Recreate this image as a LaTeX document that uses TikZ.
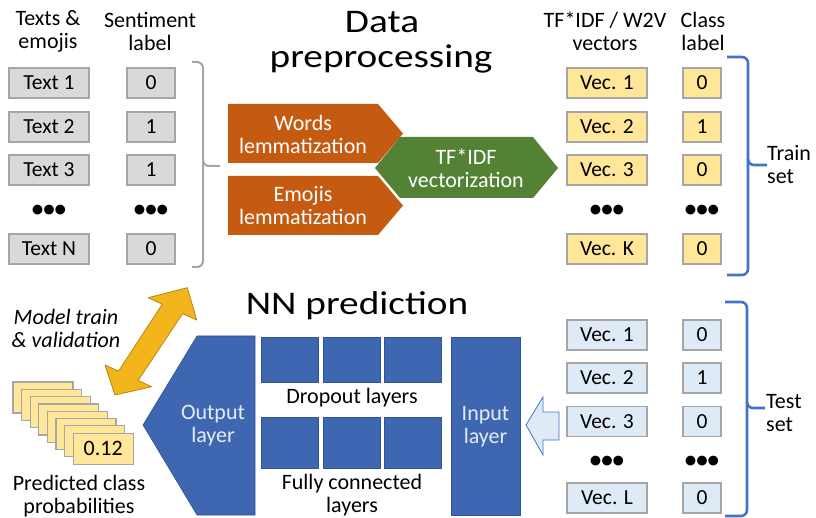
\documentclass[tikz,border=0pt]{standalone}
\usepackage{fontspec}
\setmainfont{Carlito}
\newfontfamily\titlefont[FakeStretch=1.19]{Carlito}
\definecolor{gfill}{HTML}{D9D9D9}
\definecolor{gline}{HTML}{A6A6A6}
\definecolor{yfill}{HTML}{FFE699}
\definecolor{bfill}{HTML}{DEEBF7}
\definecolor{orng}{HTML}{C55A11}
\definecolor{grn}{HTML}{548235}
\definecolor{nnblue}{HTML}{3F67B1}
\definecolor{nnedge}{HTML}{2E5597}
\definecolor{brblue}{HTML}{4472C4}
\definecolor{gold}{HTML}{F2B51C}
\definecolor{goldedge}{HTML}{B8860B}
\definecolor{nntext}{HTML}{E4ECF8}
\begin{document}
\begin{tikzpicture}[x=1pt,y=-1pt,
  cell/.style={draw=gline, line width=1.2pt, minimum height=30pt, inner sep=0pt,
    font=\fontsize{21.5}{24}\selectfont},
  graycell/.style={cell, fill=gfill},
  yelcell/.style={cell, fill=yfill},
  bluecell/.style={cell, fill=bfill},
  wide/.style={minimum width=80pt},
  narrow/.style={minimum width=48pt},
  cnarrow/.style={minimum width=38pt},
  dots/.style={font=\fontsize{23}{24}\selectfont\bfseries, inner sep=0pt},
  hdr/.style={font=\fontsize{22}{23}\selectfont, align=center, inner sep=0pt},
  ttl/.style={font=\titlefont\fontsize{33}{35}\selectfont, inner sep=0pt, anchor=base},
  wtxt/.style={hdr, text=white},
  nnt/.style={hdr, text=nntext},
  nnsq/.style={fill=nnblue, draw=nnedge, line width=0.6pt, minimum width=57pt, inner sep=0pt},
  card/.style={fill=yfill, draw=gline, line width=1.2pt, minimum width=60pt, minimum height=31pt,
    inner sep=0pt, font=\fontsize{22}{24}\selectfont},
  brg/.style={draw=gline, line width=2pt, rounded corners=6pt},
  brb/.style={draw=brblue, line width=2.6pt, rounded corners=6pt}
]
\useasboundingbox (0,0) rectangle (816,518);

% ---------- headers ----------
\node[hdr] (h1) at (48,31.5) {Texts \&\\emojis};
\node[hdr] (h2) at (150,31.5) {Sentiment\\label};
\node[hdr] (h3) at (605,31.5) {TF*IDF / W2V\\vectors};
\node[hdr] (h4) at (703,31.5) {Class\\label};
\node[ttl] (dp1) at (382,33) {Data};
\node[ttl] (dp2) at (381,68) {preprocessing};
\node[ttl] (nnp) at (357,315) {NN prediction};

% ---------- left texts ----------
\node[graycell, wide] (t1) at (49,83) {Text 1};
\node[graycell, wide] (t2) at (49,127) {Text 2};
\node[graycell, wide] (t3) at (49,170) {Text 3};
\node[dots] (td) at (49,211) {•••};
\node[graycell, wide] (tn) at (49,249) {Text N};
\node[graycell, narrow] (s1) at (151,83) {0};
\node[graycell, narrow] (s2) at (151,127) {1};
\node[graycell, narrow] (s3) at (151,170) {1};
\node[dots] (sd) at (151,211) {•••};
\node[graycell, narrow] (sn) at (151,249) {0};
\draw[brg] (192,62) -| (203,166) -- (220,166);
\draw[brg] (203,160) |- (192,267);

% ---------- preprocessing arrows ----------
\fill[orng] (228,104) -- (378,104) -- (403,133.5) -- (378,163) -- (228,163) -- cycle;
\fill[orng] (228,176) -- (378,176) -- (403,205.5) -- (378,235) -- (228,235) -- cycle;
\fill[grn] (375,168) -- (400,137) -- (533,137) -- (558,168) -- (533,198) -- (400,198) -- cycle;
\node[wtxt] (wl) at (303,134) {Words\\lemmatization};
\node[wtxt] (el) at (303,206) {Emojis\\lemmatization};
\node[wtxt] (tf) at (466,168) {TF*IDF\\vectorization};

% ---------- train set ----------
\node[yelcell, wide] (v1) at (607,83) {Vec. 1};
\node[yelcell, wide] (v2) at (607,127) {Vec. 2};
\node[yelcell, wide] (v3) at (607,170) {Vec. 3};
\node[dots] (vd) at (607,211) {•••};
\node[yelcell, wide] (vk) at (607,249) {Vec. K};
\node[yelcell, cnarrow] (c1) at (702,83) {0};
\node[yelcell, cnarrow] (c2) at (702,127) {1};
\node[yelcell, cnarrow] (c3) at (702,170) {0};
\node[dots] (cd) at (702,211) {•••};
\node[yelcell, cnarrow] (ck) at (702,249) {0};
\draw[brb] (727,57) -| (748,165) -- (767,165);
\draw[brb] (748,159) |- (727,275);
\node[hdr, align=left, anchor=west] (trs) at (767,165) {Train\\set};

% ---------- test set ----------
\node[bluecell, wide] (w1) at (607,335) {Vec. 1};
\node[bluecell, wide] (w2) at (607,378) {Vec. 2};
\node[bluecell, wide] (w3) at (607,421.5) {Vec. 3};
\node[dots] (wd) at (607,462) {•••};
\node[bluecell, wide] (wl2) at (607,498) {Vec. L};
\node[bluecell, cnarrow] (e1) at (702,335) {0};
\node[bluecell, cnarrow] (e2) at (702,378) {1};
\node[bluecell, cnarrow] (e3) at (702,421.5) {0};
\node[dots] (ed) at (702,462) {•••};
\node[bluecell, cnarrow] (el2) at (702,498) {0};
\draw[brb] (725,302) -| (747,408) -- (765,408);
\draw[brb] (747,402) |- (725,516);
\node[hdr, align=left, anchor=west] (tss) at (766,413) {Test\\set};

% ---------- input arrow ----------
\draw[fill=bfill, draw=brblue, line width=0.8pt]
  (526,425) -- (543,397) -- (543,412) -- (559,412) -- (559,440) -- (543,440) -- (543,455) -- cycle;

% ---------- network ----------
\node[fill=nnblue, draw=nnedge, line width=0.6pt, minimum width=69pt, minimum height=178pt, inner sep=0pt] (inl) at (485.5,426) {};
\node[nnt] (inlt) at (485.5,427) {Input\\layer};
\node[nnsq, minimum height=45pt] (d1) at (290,359.5) {};
\node[nnsq, minimum height=45pt] (d2) at (351.5,359.5) {};
\node[nnsq, minimum height=45pt] (d3) at (413,359.5) {};
\node[nnsq, minimum height=51pt] (f1) at (290,442.5) {};
\node[nnsq, minimum height=51pt] (f2) at (351.5,442.5) {};
\node[nnsq, minimum height=51pt] (f3) at (413,442.5) {};
\node[hdr] (dol) at (352,398) {Dropout layers};
\node[hdr] (fcl) at (352,495) {Fully connected\\layers};
\draw[fill=nnblue, draw=nnedge, line width=0.6pt] (143,425) -- (197,336) -- (255,336) -- (255,515) -- (197,515) -- cycle;
\node[nnt] (outt) at (213,426) {Output\\layer};

% ---------- train/validation arrow ----------
\draw[fill=gold, draw=goldedge, line width=0.8pt, line join=round]
  (187.3,287.7) -- (196.7,320) -- (182.7,313.6) -- (138.1,380.4) -- (151.7,386.7)
  -- (115,395) -- (105,365) -- (118.5,371.2) -- (162.3,304.2) -- (148.3,297.7) -- cycle;
\node[hdr, font=\fontsize{22}{23}\selectfont\itshape] (mtv) at (66,328.5) {Model train\\\& validation};

% ---------- predicted probabilities ----------
\foreach \i in {0,...,6} {
  \node[card] (p\i) at ({43+8.6*\i},{397.5+7.3*\i}) {};
}
\node[card] (p7) at ({43+8.6*7},{397.5+7.3*7}) {0.12};
\node[hdr] (pcp) at (79,496) {Predicted class\\probabilities};
\end{tikzpicture}
\end{document}
